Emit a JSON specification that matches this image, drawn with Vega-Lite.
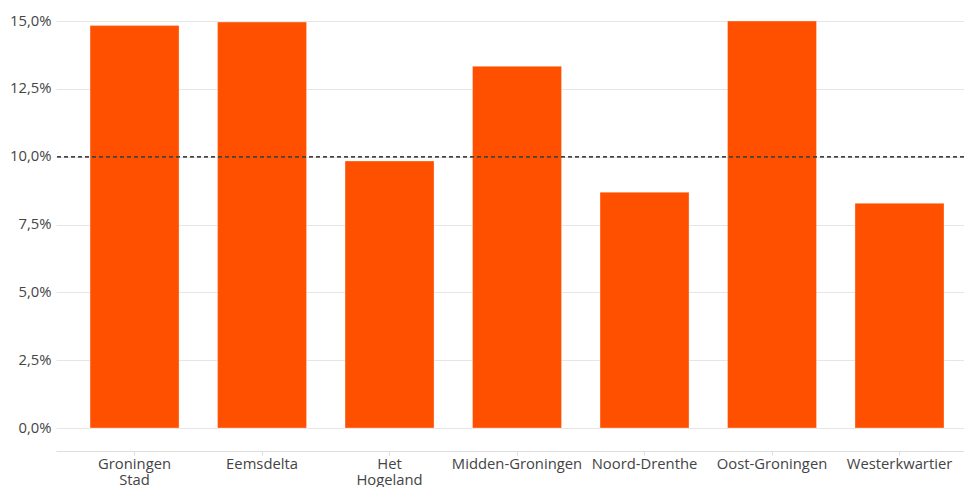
{
  "$schema": "https://vega.github.io/schema/vega-lite/v6.json",
  "width": 908,
  "height": 407,
  "autosize": {"type": "none"},
  "padding": {"left": 56, "top": 21, "right": 0, "bottom": 59},
  "config": {
    "view": {"stroke": null},
    "font": "Open Sans",
    "axis": {"labelFont": "Open Sans", "labelFontSize": 14.8, "labelColor": "#444444", "title": null}
  },
  "data": {
    "values": [
      {"region": "Groningen Stad", "value": 14.83},
      {"region": "Eemsdelta", "value": 14.96},
      {"region": "Het Hogeland", "value": 9.84},
      {"region": "Midden-Groningen", "value": 13.33},
      {"region": "Noord-Drenthe", "value": 8.69},
      {"region": "Oost-Groningen", "value": 15.0},
      {"region": "Westerkwartier", "value": 8.28}
    ]
  },
  "layer": [
    {
      "mark": {"type": "bar", "color": "#ff5000", "stroke": "#ffffff", "strokeWidth": 0.5, "strokeOpacity": 0.6},
      "encoding": {
        "x": {
          "field": "region",
          "type": "nominal",
          "sort": null,
          "scale": {"paddingInner": 0.302, "paddingOuter": 0.212, "align": 0.63},
          "axis": {
            "labelAngle": 0,
            "offset": 23,
            "domainColor": "#dddddd",
            "tickColor": "#dddddd",
            "tickSize": 4,
            "labelPadding": 1,
            "labelLineHeight": 16,
            "grid": false,
            "labelExpr": "datum.label == 'Groningen Stad' ? ['Groningen', 'Stad'] : datum.label == 'Het Hogeland' ? ['Het', 'Hogeland'] : datum.label"
          }
        },
        "y": {
          "field": "value",
          "type": "quantitative",
          "scale": {"domain": [0, 15], "nice": false},
          "axis": {
            "values": [0, 2.5, 5, 7.5, 10, 12.5, 15],
            "domain": false,
            "ticks": false,
            "labelPadding": 5,
            "gridColor": "#e6e6e6",
            "gridWidth": 1,
            "labelExpr": "replace(format(datum.value, '.1f'), '.', ',') + '%'"
          }
        }
      }
    },
    {
      "mark": {"type": "rule", "color": "#444444", "strokeDash": [4, 3], "strokeWidth": 1},
      "encoding": {"y": {"datum": 10, "type": "quantitative"}}
    }
  ]
}
